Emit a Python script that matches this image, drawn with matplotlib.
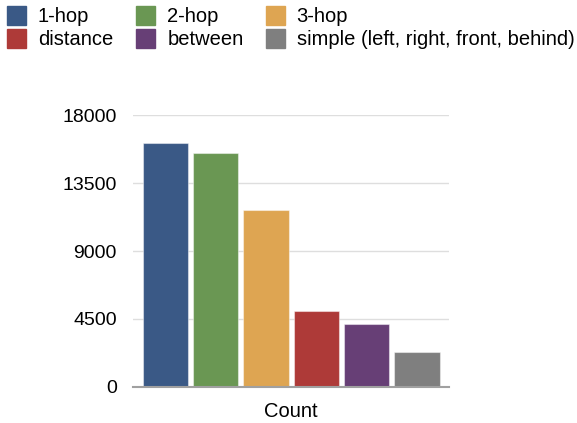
import matplotlib.pyplot as plt
from matplotlib.patches import Rectangle

categories = ['1-hop', '2-hop', '3-hop', 'distance', 'between',
              'simple (left, right, front, behind)']
counts = [16150, 15480, 11730, 5000, 4140, 2300]
colors = ['#3a5986', '#6a9753', '#dea552', '#ae3a38', '#673f76', '#7f7f7f']
y_ticks = [0, 4500, 9000, 13500, 18000]
x_label = 'Count'

plt.rcParams['font.family'] = ['Liberation Sans', 'DejaVu Sans']
FS = 14.5

W, H = 577, 423
fig = plt.figure(figsize=(W / 100, H / 100), dpi=100)
ax = fig.add_axes([133.3 / W, 1 - 386.7 / H, 316 / W, 271.4 / H])

pos = list(range(len(counts)))
ax.bar(pos, counts, width=0.9, color=colors,
       edgecolor=(1, 1, 1, 0.45), linewidth=0.8, zorder=3)

ax.set_xlim(-0.64, len(counts) - 1 + 0.64)
ax.set_ylim(0, y_ticks[-1])
ax.set_yticks(y_ticks)
ax.set_yticklabels([str(t) for t in y_ticks], fontsize=14)
ax.set_xticks([(len(counts) - 1) / 2])
ax.set_xticklabels([x_label], fontsize=FS)
ax.tick_params(axis='y', length=0, pad=12)
ax.tick_params(axis='x', length=0, pad=11)

ax.grid(axis='y', color='#dedede', linewidth=1, zorder=0)
ax.set_axisbelow(True)
for s in ['left', 'right', 'top']:
    ax.spines[s].set_visible(False)
ax.spines['bottom'].set_color('#a0a0a0')
ax.spines['bottom'].set_linewidth(1.5)
ax.spines['bottom'].set_zorder(4)

# legend, three per row
for i, (name, c) in enumerate(zip(categories, colors)):
    col, row = i % 3, i // 3
    x0 = 6.7 + 129.5 * col
    y0 = 6 + 23.3 * row
    fig.patches.append(Rectangle((x0 / W, 1 - (y0 + 19) / H), 19 / W, 19 / H,
                                 transform=fig.transFigure, color=c,
                                 figure=fig))
    fig.text((x0 + 31) / W, 1 - (y0 + 10) / H, name, fontsize=FS,
             va='center', ha='left')

fig.savefig('out.png', dpi=100)
